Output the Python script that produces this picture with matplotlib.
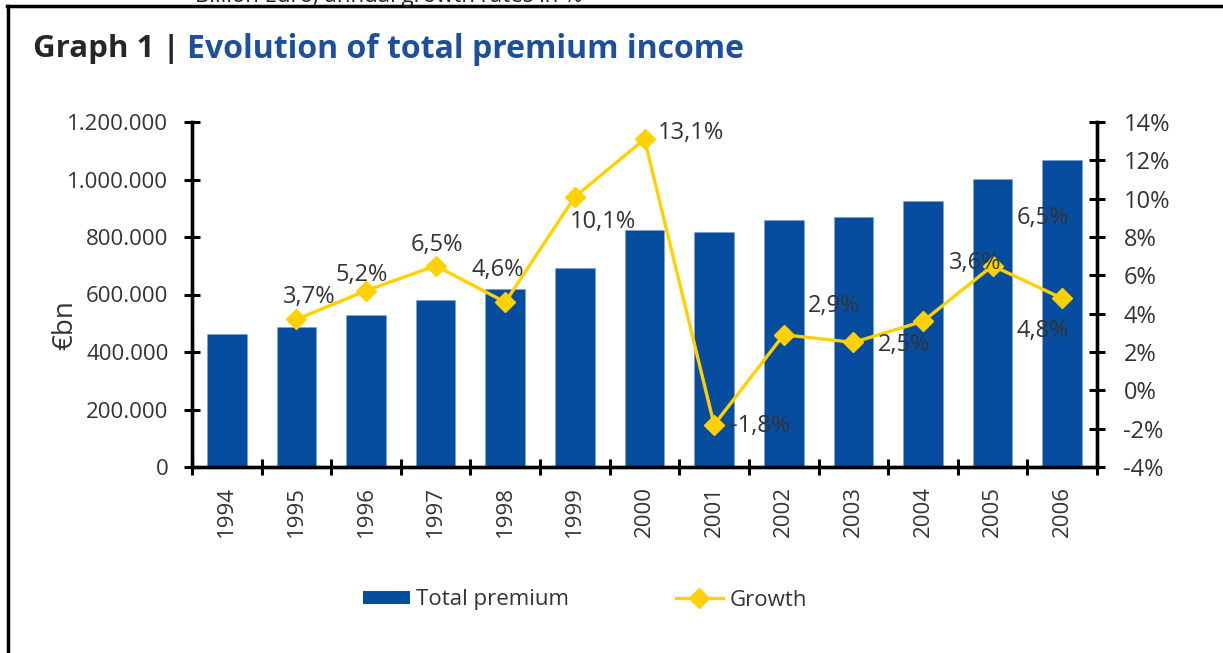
import numpy as np
import matplotlib
matplotlib.use("Agg")
import matplotlib.pyplot as plt
from matplotlib.patches import Patch
from matplotlib.lines import Line2D
from matplotlib.ticker import FuncFormatter, MultipleLocator

# data
years = ["1994", "1995", "1996", "1997", "1998", "1999", "2000",
         "2001", "2002", "2003", "2004", "2005", "2006"]
premium = [462000, 487000, 529000, 581000, 619000, 692000, 824000,
           817000, 859000, 870000, 925000, 1002000, 1068000]
growth = [None, 3.7, 5.2, 6.5, 4.6, 10.1, 13.1, -1.8, 2.9, 2.5, 3.6, 6.5, 4.8]
growth_labels = ["", "3,7%", "5,2%", "6,5%", "4,6%", "10,1%", "13,1%",
                 "-1,8%", "2,9%", "2,5%", "3,6%", "6,5%", "4,8%"]
# where each label sits relative to its point (pixels)
label_offsets = [(0, 0), (13, 22), (-4, 16), (1, 21), (-8, 32), (28, -25), (46, 6),
                 (46, -1), (50, 29), (51, -3), (52, 58), (50, 48), (-19, -33)]

blue = "#064D9F"
yellow = "#FFD100"
txt = "#333333"
FONT = "Open Sans"
plt.rcParams["font.family"] = [FONT, "DejaVu Sans"]

W, H = 1223, 653
fig = plt.figure(figsize=(W / 100, H / 100), dpi=100)
fig.patch.set_facecolor("white")

ax = fig.add_axes([192 / W, 1 - 467 / H, (1097 - 192) / W, (467 - 122) / H])
x = np.arange(len(years))
ax.bar(x, premium, width=0.57, color=blue, edgecolor="#7f9fcc", linewidth=0.4, zorder=2)
ax.set_xlim(-0.5, len(years) - 0.5)
ax.set_ylim(0, 1200000)
ax.yaxis.set_major_locator(MultipleLocator(200000))
ax.yaxis.set_major_formatter(FuncFormatter(lambda v, p: f"{int(v):,}".replace(",", ".")))
ax.set_xticks(x)
ax.set_xticklabels(years, rotation=90)
ax.set_xticks(np.arange(-0.5, len(years)), minor=True)
ax.tick_params(axis="x", which="major", length=0, pad=14, labelsize=16, labelcolor=txt)
ax.tick_params(axis="x", which="minor", direction="inout", length=12, width=2.2)
ax.tick_params(axis="y", direction="inout", length=12, width=2.2, pad=11,
               labelsize=16, labelcolor=txt)
for s in ["left", "bottom", "right"]:
    ax.spines[s].set_linewidth(2.4)
ax.spines["top"].set_visible(False)

ax2 = ax.twinx()
gx = [i for i, g in enumerate(growth) if g is not None]
gy = [g for g in growth if g is not None]
ax2.plot(gx, gy, color=yellow, lw=2.4, marker="D", markersize=10, zorder=3)
ax2.set_ylim(-4, 14)
ax2.yaxis.set_major_locator(MultipleLocator(2))
ax2.yaxis.set_major_formatter(FuncFormatter(lambda v, p: f"{int(round(v))}%"))
ax2.tick_params(axis="y", direction="inout", length=12, width=2.2, pad=13,
                labelsize=17, labelcolor=txt)
for s in ["left", "bottom", "right"]:
    ax2.spines[s].set_linewidth(2.4)
ax2.spines["top"].set_visible(False)

for i, g in enumerate(growth):
    if g is None:
        continue
    ax2.annotate(growth_labels[i], (i, g), xytext=label_offsets[i],
                 textcoords="offset pixels", ha="center", va="center",
                 fontsize=17, color=txt, zorder=4)

fig.text(65 / W, 1 - 325 / H, "€bn", rotation=90, ha="center", va="center",
         fontsize=20, color=txt)

# title
fig.text(33 / W, 1 - 49 / H, "Graph 1 |", ha="left", va="center",
         fontsize=22.5, fontweight="bold", color="#262626")
fig.text(187 / W, 1 - 49 / H, "Evolution of total premium income", ha="left", va="center",
         fontsize=23, fontweight="bold", color="#1D4F9C")
# cut-off subtitle at the very top
fig.text(195 / W, 1 - 2 / H, "Billion Euro, annual growth rates in %", ha="left",
         va="baseline", fontsize=16, color="#222222")

# frame
fig.add_artist(Line2D([7 / W, 1], [1 - 6 / H, 1 - 6 / H], color="black", lw=2.5,
                      transform=fig.transFigure))
fig.add_artist(Line2D([8 / W, 8 / W], [1 - 6 / H, 0], color="black", lw=2.5,
                      transform=fig.transFigure))

handles = [Patch(facecolor=blue, edgecolor="none"),
           Line2D([], [], color=yellow, lw=2.4, marker="D", markersize=10)]
fig.legend(handles, ["Total premium", "Growth"], loc="center",
           bbox_to_anchor=(585 / W, 1 - 600 / H), ncol=2, frameon=False,
           fontsize=16, handlelength=2.1, handleheight=0.55, handletextpad=0.3,
           columnspacing=4.8, labelcolor=txt)

fig.savefig("out.png", dpi=100, facecolor="white")
